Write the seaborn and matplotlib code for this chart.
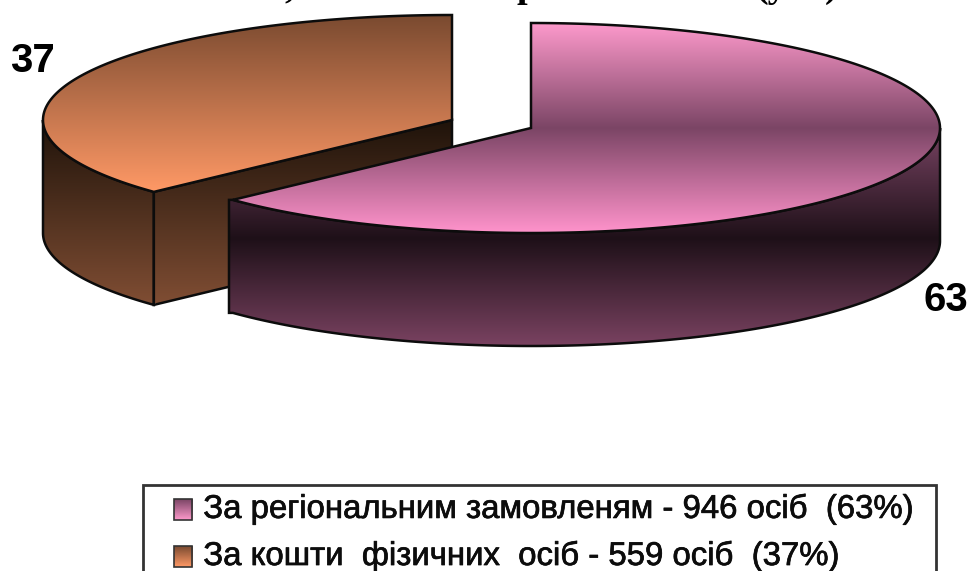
import numpy as np
import matplotlib
matplotlib.use("Agg")
import matplotlib.pyplot as plt
import matplotlib.patheffects as pe
import seaborn as sns
from matplotlib.colors import LinearSegmentedColormap
from matplotlib.patches import Patch, Polygon, Rectangle

# data
shares = [63, 37]
value_labels = ["63", "37"]
legend_labels = [
    "За регіональним замовленям - 946 осіб  (63%)",
    "За кошти  фізичних  осіб - 559 осіб  (37%)",
]
title_bits = [",", "р", "(у%)"]

W, H = 970, 571
RX, RY, DEPTH = 409, 105, 113
PINK_C = (531, 128)
ORANGE_C = (452, 120)

PINK_TOP = ["#fd99cb", "#7b4565", "#ff93cb"]
PINK_SIDE = ["#7b4565", "#1e1018", "#7f4565"]
ORANGE_TOP = ["#7a4a30", "#ff9966"]
ORANGE_SIDE = ["#1f130a", "#7f4d33"]

sns.set_theme(style="white")
plt.rcParams["font.family"] = ["Liberation Sans", "DejaVu Sans"]

fig = plt.figure(figsize=(W / 100, H / 100), dpi=100)
ax = fig.add_axes([0, 0, 1, 1])
ax.axis("off")


def arc(center, a0, a1, drop=0):
    # angles are clockwise from 12 o'clock, as in a pie
    t = np.radians(np.linspace(a0, a1, 240))
    return np.column_stack([center[0] + RX * np.sin(t),
                            center[1] - RY * np.cos(t) + drop])


def shade(poly, stops, y0, y1, z):
    # vertical gradient clipped to a polygon, then the black outline over it
    cmap = LinearSegmentedColormap.from_list("g", stops)
    grad = np.linspace(0, 1, 256)[:, None]
    im = ax.imshow(grad, cmap=cmap, extent=(0, W, y1, y0), aspect="auto", zorder=z)
    edge = Polygon(poly, closed=True, facecolor="none", edgecolor="#0c0c0c", lw=1.8, zorder=z + 0.1)
    ax.add_patch(edge)
    im.set_clip_path(edge)


split = 360 * shares[0] / sum(shares)

# orange slice, pulled out to the left
tip = arc(ORANGE_C, split, split)[0]
outer = arc(ORANGE_C, split, 270)
side = np.vstack([outer, outer[::-1] + [0, DEPTH]])
shade(side, ORANGE_SIDE, ORANGE_C[1], ORANGE_C[1] + 183, 1)
wall = np.array([ORANGE_C, tip, tip + [0, DEPTH], np.array(ORANGE_C) + [0, DEPTH]])
shade(wall, ORANGE_SIDE, ORANGE_C[1], ORANGE_C[1] + 183, 1.2)
top = np.vstack([[ORANGE_C], arc(ORANGE_C, split, 360)])
shade(top, ORANGE_TOP, ORANGE_C[1] - RY, tip[1], 2)

# pink slice, the side sticks out a little past the tip of the top face
outer = arc(PINK_C, 90, split)
side = np.vstack([outer, [[229, outer[-1][1]], [229, outer[-1][1] + DEPTH]], outer[::-1] + [0, DEPTH]])
shade(side, PINK_SIDE, PINK_C[1] - 3, PINK_C[1] + RY + DEPTH + 6, 3)
top = np.vstack([[PINK_C], arc(PINK_C, 0, split)])
shade(top, PINK_TOP, PINK_C[1] - RY, PINK_C[1] + RY, 4)

# value labels
label_font = dict(fontweight="bold", fontsize=29, color="black", ha="center", va="center")
ax.text(946, 300, value_labels[0], **label_font)
ax.text(32, 61, value_labels[1], **label_font)

# what is left of the cropped heading
head_font = dict(family="Liberation Serif", fontweight="bold", fontsize=27.5, color="black",
                 ha="center", va="baseline")
for x, bit in zip([289, 527, 797], title_bits):
    ax.text(x, -3, bit, **head_font)

# legend, its frame runs off the bottom of the picture
ax.add_patch(Rectangle((143, 485), 793, 120, facecolor="white", edgecolor="#333333", lw=2, zorder=5))
handles = [Patch(facecolor=PINK_TOP[0], lw=0), Patch(facecolor=ORANGE_TOP[1], lw=0)]
leg = ax.legend(handles, legend_labels, loc="upper left", frameon=False,
                bbox_to_anchor=(174 / W, 1 - 493 / H), borderaxespad=0, borderpad=0,
                fontsize=23.7, handlelength=0.56, handleheight=0.6,
                handletextpad=0.33, labelspacing=0.46, labelcolor="#0c0c0c")
leg.set_zorder(6)
for txt in leg.get_texts():
    txt.set_path_effects([pe.withStroke(linewidth=0.5, foreground="#0c0c0c")])

ax.set_xlim(0, W)
ax.set_ylim(H, 0)

# gradient swatches in place of the legend keys, sitting a bit under the baseline
fig.canvas.draw()
inv = ax.transData.inverted()
swatches = [["#7b4565", "#fd99cb"], ["#7a4a30", "#ff9966"]]
for handle, stops in zip(leg.legend_handles, swatches):
    box = handle.get_window_extent()
    (x0, y1), (x1, y0) = inv.transform([[box.x0, box.y0], [box.x1, box.y1]])
    y0, y1 = y0 + 3, y1 + 3
    cmap = LinearSegmentedColormap.from_list("s", stops)
    ax.imshow(np.linspace(0, 1, 64)[:, None], cmap=cmap, extent=(x0, x1, y1, y0),
              aspect="auto", zorder=7)
    ax.add_patch(Rectangle((x0, y0), x1 - x0, y1 - y0, facecolor="none",
                           edgecolor="#333333", lw=1.2, zorder=7.1))
    handle.set_visible(False)

ax.set_xlim(0, W)
ax.set_ylim(H, 0)
fig.savefig("out.png", dpi=100, facecolor="white")
